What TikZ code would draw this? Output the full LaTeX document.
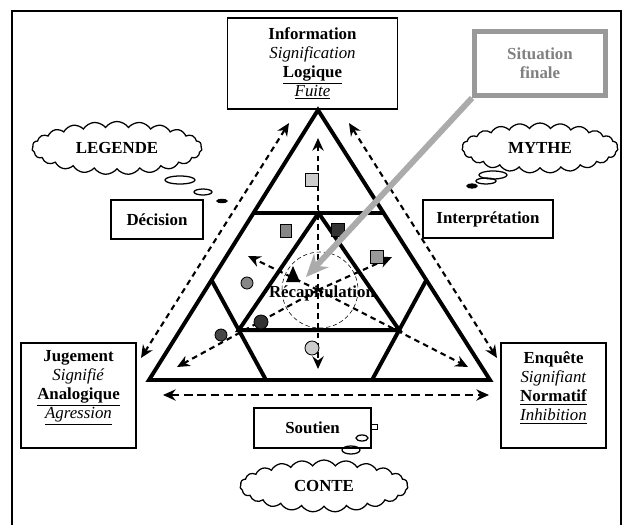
\documentclass[tikz,border=0pt]{standalone}
\usepackage{fontspec}
\setmainfont{Liberation Serif}
\usetikzlibrary{arrows.meta,positioning,calc,shapes.symbols,shapes.geometric}

\begin{document}
\begin{tikzpicture}[x=0.25mm,y=-0.25mm,>=Stealth,font=\fontsize{12}{13.5}\selectfont,
  box/.style={draw,line width=0.9pt,align=center,inner sep=0pt},
  wolke/.style={cloud,draw,line width=0.9pt,cloud puffs=23,cloud puff arc=110,aspect=3.2,inner sep=0pt,font=\fontsize{12}{13.5}\selectfont\bfseries},
  bubble/.style={ellipse,draw,line width=0.9pt,inner sep=0pt},
  tri/.style={line width=2.8pt},
  dashtwo/.style={line width=1.5pt,dash pattern=on 4pt off 3pt,{Stealth[length=9pt,width=8pt]}-{Stealth[length=9pt,width=8pt]}},
  dashone/.style={line width=1.5pt,dash pattern=on 4pt off 3pt,-{Stealth[length=9pt,width=8pt]}},
  sq/.style={rectangle,draw,line width=0.6pt,minimum size=3.2mm,inner sep=0pt},
  dot/.style={circle,draw,line width=0.6pt,minimum size=3.5mm,inner sep=0pt}]
 \useasboundingbox (0,0) rectangle (624,525);
 \draw[line width=1.4pt] (12,530)--(12,11)--(621,11)--(621,530);

 % boxes
 \node[box,minimum width=42.5mm,minimum height=22.75mm] (info) at (312.5,63.5)
   {\textbf{Information}\\\textit{Signification}\\\underline{\textbf{Logique}}\\\underline{\textit{Fuite}}};
 \node[box,minimum width=28.75mm,minimum height=26.25mm] (jug) at (78.5,395.5) {};
 \node[align=center] (jug-txt) at (78.5,388)
   {\textbf{Jugement}\\\textit{Signifié}\\\underline{\textbf{Analogique}}\\\underline{\textit{Agression}}};
 \node[box,minimum width=26.25mm,minimum height=26.25mm] (enq) at (553.5,395.5) {};
 \node[align=center] (enq-txt) at (553.5,388)
   {\textbf{Enquête}\\\textit{Signifiant}\\\underline{\textbf{Normatif}}\\\underline{\textit{Inhibition}}};
 \node[box,minimum width=23mm,minimum height=9.75mm,font=\fontsize{12}{13.5}\selectfont\bfseries] (dec) at (157,219.5) {Décision};
 \node[box,minimum width=32.5mm,minimum height=9.5mm,font=\fontsize{12}{13.5}\selectfont\bfseries] (interp) at (488,219) {Interprétation};
 \node[box,minimum width=29.25mm,minimum height=10mm,font=\fontsize{12}{13.5}\selectfont\bfseries] (sout) at (312.5,428) {Soutien};
 \node[box,draw=black!40,line width=3.5pt,text=black!50,minimum width=32.75mm,minimum height=16mm,
   font=\fontsize{12}{13.5}\selectfont\bfseries] (sf) at (540,63.5) {Situation\\finale};

 % clouds
 \node[wolke,minimum width=42.5mm,minimum height=13.25mm] (leg) at (117,148) {LEGENDE};
 \node[wolke,minimum width=39mm,minimum height=12.5mm] (myth) at (540,148) {MYTHE};
 \node[wolke,minimum width=42mm,minimum height=13mm] (conte) at (324,486) {CONTE};
 \node[bubble,minimum width=7.5mm,minimum height=2mm] (lb1) at (180,180) {};
 \node[bubble,minimum width=4.5mm,minimum height=1.5mm] (lb2) at (203,192) {};
 \node[bubble,fill,minimum width=2.5mm,minimum height=0.8mm] (lb3) at (222,201) {};
 \node[bubble,minimum width=7mm,minimum height=2mm] (mb1) at (493,175) {};
 \node[bubble,minimum width=5mm,minimum height=1.5mm] (mb2) at (486,181) {};
 \node[bubble,fill,minimum width=2.5mm,minimum height=1mm] (mb3) at (472,186) {};
 \node[draw,line width=0.7pt,minimum width=1.5mm,minimum height=1.2mm,inner sep=0pt] (sb1) at (374,427) {};
 \node[bubble,minimum width=3mm,minimum height=1.5mm] (sb2) at (362,438) {};
 \node[bubble,minimum width=4.5mm,minimum height=2mm] (sb3) at (351,450) {};

 % triangle
 \coordinate (A) at (318,110);
 \coordinate (B) at (149,380);
 \coordinate (C) at (490,380);
 \coordinate (L1) at ($(A)!0.3815!(B)$);
 \coordinate (R1) at ($(A)!0.3815!(C)$);
 \coordinate (L2) at ($(A)!0.63!(B)$);
 \coordinate (R2) at ($(A)!0.63!(C)$);
 \coordinate (B2) at (266,380);
 \coordinate (C2) at (372,380);
 \coordinate (T) at ($(L1)!0.5!(R1)$);
 \coordinate (TL) at ($(L2)!0.5!(B2)$);
 \coordinate (TR) at ($(R2)!0.5!(C2)$);
 \draw[tri] (A)--(B)--(C)--cycle;
 \draw[tri] (L1)--(R1);
 \draw[tri] (L2)--(B2);
 \draw[tri] (R2)--(C2);
 \draw[tri] (T)--(TL)--(TR)--cycle;

 % centre
 \coordinate (ctr) at (318,290);
 \draw[thin,densely dashed] (320,290) circle[radius=38];
 \fill (286,282)--(293,266)--(300,282)--cycle;
 \coordinate (vt) at (318,138);
 \coordinate (vb) at (318,369);
 \coordinate (ul) at (248,256);
 \coordinate (ur) at (392,257);
 \coordinate (dl) at (177,367);
 \coordinate (dr) at (468,367);
 \draw[dashtwo] (vt)--(vb);
 \draw[dashone] (ctr)--(ul);
 \draw[dashone] (ctr)--(ur);
 \draw[dashone] (ctr)--(dl);
 \draw[dashone] (ctr)--(dr);
 \node[font=\fontsize{12}{13.5}\selectfont\bfseries] (recap) at (322,293) {Récapitulation};

 % outer arrows
 \coordinate (lu) at (289,123);
 \coordinate (ld) at (141,358);
 \coordinate (ru) at (349,123);
 \coordinate (rd) at (497,358);
 \coordinate (bl) at (163,395);
 \coordinate (br) at (489,395);
 \draw[dashtwo] (ld)--(lu);
 \draw[dashtwo] (rd)--(ru);
 \draw[dashtwo,dash pattern=on 6pt off 3.5pt] (bl)--(br);

 % markers
 \node[sq,fill=black!20] (sq1) at (312,180) {};
 \node[sq,fill=black!47,minimum width=2.6mm] (sq2) at (286,231) {};
 \node[sq,fill=black!80] (sq3) at (338,230) {};
 \node[sq,fill=black!40] (sq4) at (377,257) {};
 \node[dot,fill=black!47,minimum size=3mm] (ci1) at (247,283) {};
 \node[dot,fill=black!80] (ci2) at (261,322) {};
 \node[dot,fill=black!72,minimum size=3mm] (ci3) at (221,335) {};
 \node[dot,fill=black!20] (ci4) at (312,348) {};

 % arrow from the final situation
 \coordinate (target) at (306,277);
 \draw[line width=4.2pt,black!33,-{Stealth[length=16pt,width=14pt]}] (sf.south west)--(target);
\end{tikzpicture}
\end{document}
